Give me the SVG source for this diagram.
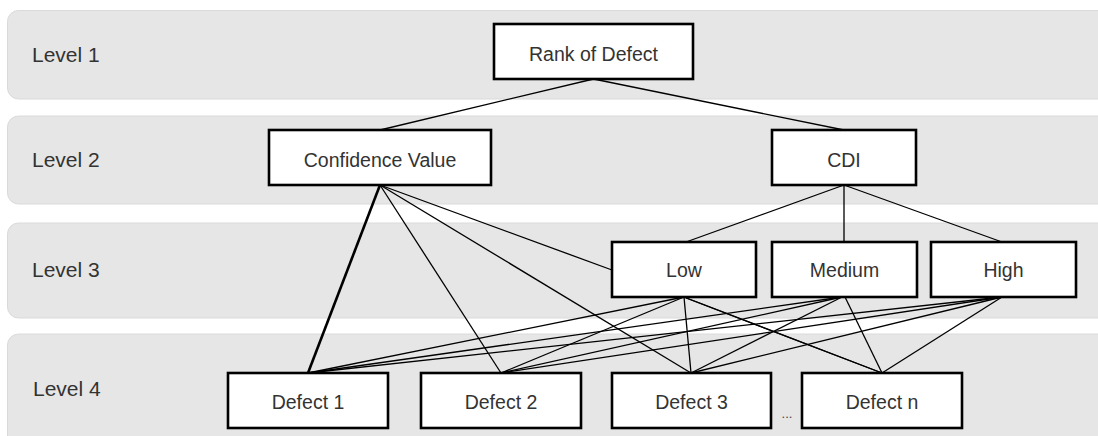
<svg xmlns="http://www.w3.org/2000/svg" width="1098" height="436" viewBox="0 0 1098 436">
<style>
.band{fill:#e6e6e6;stroke:#dadada;stroke-width:1}
.lvl{font-family:"Liberation Sans",Arial,sans-serif;font-size:21px;fill:#333}
.box{fill:#fff;stroke:#000;stroke-width:2.6}
.lbl{font-family:"Liberation Sans",Arial,sans-serif;font-size:19.5px;fill:#333;text-anchor:middle}
.ln{stroke:#000;stroke-width:1.3;fill:none}
.thick{stroke:#000;stroke-width:2.6;fill:none}
</style>
<g id="bands">
<rect class="band" x="7.5" y="10.5" width="1110" height="88.5" rx="11"/>
<rect class="band" x="7.5" y="116" width="1110" height="88" rx="11"/>
<rect class="band" x="7.5" y="223" width="1110" height="95" rx="11"/>
<rect class="band" x="7.5" y="334" width="1110" height="120" rx="11"/>
<text class="lvl" x="32" y="62">Level 1</text>
<text class="lvl" x="32" y="167">Level 2</text>
<text class="lvl" x="32" y="277">Level 3</text>
<text class="lvl" x="33" y="396">Level 4</text>
</g>
<g id="connectors">
<line class="ln" x1="593.5" y1="79" x2="380" y2="130"/>
<line class="ln" x1="593.5" y1="79" x2="844" y2="130"/>
<line class="thick" x1="380" y1="185" x2="308" y2="373"/>
<line class="ln" x1="380" y1="185" x2="501" y2="373"/>
<line class="ln" x1="380" y1="185" x2="691" y2="373"/>
<line class="ln" x1="380" y1="185" x2="612" y2="270"/>
<line class="ln" x1="844" y1="185" x2="686" y2="242"/>
<line class="ln" x1="844" y1="185" x2="844" y2="242"/>
<line class="ln" x1="844" y1="185" x2="1002" y2="242"/>
<line class="ln" x1="684" y1="297" x2="308" y2="373"/>
<line class="ln" x1="684" y1="297" x2="501" y2="373"/>
<line class="ln" x1="684" y1="297" x2="691" y2="373"/>
<line class="ln" x1="684" y1="297" x2="882" y2="373"/>
<line class="ln" x1="686" y1="298" x2="882" y2="373"/>
<line class="ln" x1="842" y1="297" x2="308" y2="373"/>
<line class="ln" x1="842" y1="297" x2="501" y2="373"/>
<line class="ln" x1="842" y1="297" x2="691" y2="373"/>
<line class="ln" x1="845" y1="297" x2="882" y2="373"/>
<line class="ln" x1="1002" y1="297" x2="308" y2="373"/>
<line class="ln" x1="1002" y1="297" x2="501" y2="373"/>
<line class="ln" x1="1002" y1="297" x2="691" y2="373"/>
<line class="ln" x1="1002" y1="297" x2="882" y2="373"/>
</g>
<g id="rank"><rect class="box" x="494" y="24" width="199" height="55"/><text class="lbl" x="593.5" y="60.5">Rank of Defect</text></g>
<g id="confidence"><rect class="box" x="269" y="130" width="222" height="55"/><text class="lbl" x="380" y="166.5">Confidence Value</text></g>
<g id="cdi"><rect class="box" x="772" y="130" width="144" height="55"/><text class="lbl" x="844" y="166.5">CDI</text></g>
<g id="low"><rect class="box" x="612" y="242" width="144" height="55"/><text class="lbl" x="684" y="276.5">Low</text></g>
<g id="medium"><rect class="box" x="772" y="242" width="145" height="55"/><text class="lbl" x="844.5" y="276.5">Medium</text></g>
<g id="high"><rect class="box" x="931" y="242" width="145" height="55"/><text class="lbl" x="1003.5" y="276.5">High</text></g>
<g id="defect1"><rect class="box" x="228" y="373" width="160" height="55"/><text class="lbl" x="308" y="409">Defect 1</text></g>
<g id="defect2"><rect class="box" x="421" y="373" width="160" height="55"/><text class="lbl" x="501" y="409">Defect 2</text></g>
<g id="defect3"><rect class="box" x="612" y="373" width="159" height="55"/><text class="lbl" x="691.5" y="409">Defect 3</text></g>
<g id="defectn"><rect class="box" x="802" y="373" width="160" height="55"/><text class="lbl" x="882" y="409">Defect n</text></g>
<text x="787" y="418" style="font-family:'Liberation Sans',Arial,sans-serif;font-size:13px;fill:#444;text-anchor:middle">...</text>
</svg>
